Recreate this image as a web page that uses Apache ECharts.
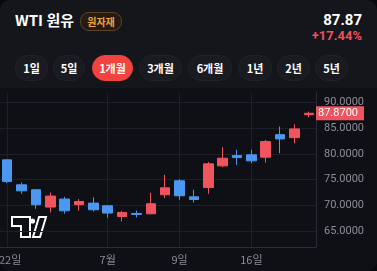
<!DOCTYPE html>
<html>
<head>
<meta charset="utf-8">
<script src="https://cdn.jsdelivr.net/npm/echarts@6/dist/echarts.min.js"></script>
<style>
  html, body { margin: 0; padding: 0; background: #08090c; }
  #card {
    position: relative; width: 377px; height: 271px; overflow: hidden;
    background: #15161b; border-radius: 10px; box-sizing: border-box;
    font-family: 'Noto Sans CJK KR', 'Noto Sans', sans-serif; color: #fff;
  }
  .abs { position: absolute; white-space: nowrap; }
  #title { left: 15px; top: 10px; font-size: 15px; font-weight: 700; line-height: 20px; }
  #badge {
    left: 80px; top: 12px; width: 40px; height: 17px; border-radius: 9px;
    border: 1px solid #5e4524; background: #231b14; color: #f3a43b;
    font-size: 10px; font-weight: 700; line-height: 17px; text-align: center;
  }
  #price { right: 15px; top: 11px; font-size: 15px; font-weight: 700; line-height: 18px; font-family: Roboto, 'Noto Sans', sans-serif; }
  #chg { right: 15px; top: 28px; font-size: 13px; font-weight: 700; line-height: 16px; color: #f0505e; font-family: Roboto, 'Noto Sans', sans-serif; }
  .btn {
    position: absolute; top: 55px; height: 26px; border-radius: 13px;
    background: #1a1b21; border: 1px solid #22232a; box-sizing: border-box;
    font-size: 11px; font-weight: 700; line-height: 24px; text-align: center;
  }
  .btn.on { background: #f2433e; border-color: #f2433e; }
  #chart { position: absolute; left: 0; top: 88px; width: 377px; height: 183px; background: #0e1016; }
</style>
</head>
<body>
<div id="card">
  <div id="title" class="abs">WTI 원유</div>
  <div id="badge" class="abs">원자재</div>
  <div id="price" class="abs">87.87</div>
  <div id="chg" class="abs">+17.44%</div>
  <div id="btns"></div>
  <div id="chart"></div>
</div>
<script>
// 기간 버튼
const ranges = ['1일', '5일', '1개월', '3개월', '6개월', '1년', '2년', '5년']
const btnX = [15, 53, 92, 139, 188, 238, 277, 315]
const btnW = [33, 32, 41, 43, 44, 34, 33, 33]
const activeRange = '1개월'

// 일봉 데이터 (시가, 종가, 저가, 고가)
const dates = ['22일', '23일', '24일', '25일', '26일', '27일', '28일', '7월', '2일', '3일', '5일',
  '8일', '9일', '10일', '11일', '12일', '15일', '16일', '17일', '18일', '19일', '22일']
const opens  = [78.84, 74.00, 73.04, 69.69, 71.24, 70.14, 70.46, 69.94, 67.87, 68.45, 68.39,
  72.07, 74.78, 71.68, 73.48, 77.68, 79.67, 79.81, 79.36, 83.73, 83.15, 87.60]
const closes = [74.64, 72.84, 70.14, 71.82, 68.97, 70.77, 69.17, 68.53, 68.65, 68.26, 70.33,
  73.42, 71.88, 71.16, 78.07, 79.17, 79.28, 78.65, 82.38, 82.90, 84.84, 87.87]
const lows   = [74.33, 72.26, 69.36, 68.65, 68.39, 69.03, 68.84, 67.62, 66.90, 67.68, 68.30,
  71.43, 71.10, 70.58, 72.26, 77.43, 77.87, 78.20, 78.32, 80.14, 82.07, 87.10]
const highs  = [78.90, 74.45, 73.10, 72.51, 71.68, 71.24, 71.55, 70.00, 68.97, 69.03, 72.46,
  75.94, 75.10, 73.04, 78.45, 81.30, 80.77, 80.77, 82.71, 85.28, 85.74, 88.20]
const lastPrice = 87.87

const yTicks = [65, 70, 75, 80, 85, 90]
const labelIdx = [0, 7, 12, 17]

const btnBox = document.getElementById('btns')
ranges.forEach((r, i) => {
  const b = document.createElement('div')
  b.className = 'btn' + (r === activeRange ? ' on' : '')
  b.style.left = btnX[i] + 'px'
  b.style.width = btnW[i] + 'px'
  b.textContent = r
  btnBox.appendChild(b)
})

const chart = echarts.init(document.getElementById('chart'))
const showIdx = (i) => labelIdx.includes(i)

chart.setOption({
  backgroundColor: 'transparent',
  animation: false,
  grid: { left: 0, right: 61, top: 5, bottom: 24, outerBoundsMode: 'none', containLabel: false },
  xAxis: {
    type: 'category',
    data: dates,
    axisLine: { show: true, lineStyle: { color: '#2a2d37' } },
    axisTick: { show: false, alignWithLabel: true, interval: showIdx },
    axisLabel: {
      interval: showIdx, color: '#8b8e97', fontSize: 11, margin: 7, fontFamily: 'Noto Sans CJK KR',
      // 첫 라벨은 왼쪽 끝에 붙여서
      formatter: (v, i) => (i === 0 ? '{first|' + v + '}' : v),
      rich: { first: { padding: [0, 0, 0, 6], color: '#8b8e97', fontSize: 11, fontFamily: 'Noto Sans CJK KR' } }
    },
    splitLine: { show: true, interval: showIdx, alignWithLabel: true, lineStyle: { color: '#1d2029' } }
  },
  yAxis: {
    type: 'value',
    position: 'right',
    min: 61.95,
    max: 91.8,
    axisLine: { show: true, lineStyle: { color: '#2a2d37' } },
    axisTick: { show: false, customValues: yTicks },
    axisLabel: {
      customValues: yTicks, color: '#8b8e97', fontSize: 11, margin: 8,
      fontFamily: 'Roboto', formatter: (v) => v.toFixed(4)
    },
    splitLine: { show: true, lineStyle: { color: '#1d2029' } }
  },
  series: [{
    type: 'candlestick',
    barWidth: '70%',
    data: dates.map((d, i) => [opens[i], closes[i], lows[i], highs[i]]),
    itemStyle: {
      color: '#f2545f', color0: '#4a98f2',
      borderColor: '#f2545f', borderColor0: '#4a98f2', borderWidth: 1
    },
    markLine: {
      symbol: 'none',
      silent: true,
      data: [{ yAxis: lastPrice }],
      lineStyle: { color: 'rgba(0,0,0,0)', width: 1 },
      label: {
        show: true,
        position: 'end', distance: 0,
        formatter: lastPrice.toFixed(4),
        backgroundColor: '#f2545f', color: '#ffffff',
        fontSize: 11, fontFamily: 'Roboto', padding: [2, 6, 1, 2]
      }
    }
  }],
  // 트레이딩뷰 로고 (장식)
  graphic: [{
    type: 'polygon',
    shape: { points: [[12, 129], [30, 129], [30, 149], [21, 149], [21, 138], [12, 138]] },
    style: { fill: '#0e1016', stroke: '#ffffff', lineWidth: 2 }
  }, {
    type: 'polygon',
    shape: { points: [[33, 149], [39, 129], [46, 129], [40, 149]] },
    style: { fill: '#0e1016', stroke: '#ffffff', lineWidth: 2 }
  }, {
    type: 'circle',
    shape: { cx: 32.5, cy: 133, r: 2.6 },
    style: { fill: '#ffffff' }
  }]
})
</script>
</body>
</html>
